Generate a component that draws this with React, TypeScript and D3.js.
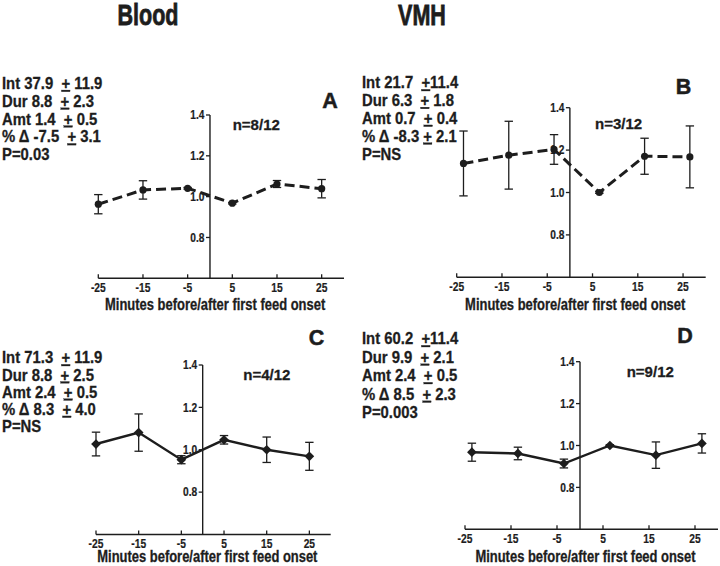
import React from "react";
import * as d3 from "d3";

// minutes relative to first feed onset
const minutesBlood = [-25, -15, -5, 5, 15, 25];
const minutesVmh = [-23.5, -13.5, -3.5, 6.5, 16.5, 26.5];
const xTicks = [-25, -15, -5, 5, 15, 25];
const yTicks = [0.8, 1.0, 1.2, 1.4];

// normalised values (mean and SEM) per panel
const meanA = [0.963, 1.033, 1.041, 0.968, 1.062, 1.039];
const semA = [0.047, 0.045, 0.004, 0.004, 0.017, 0.045];
const meanB = [1.137, 1.176, 1.203, 1.0, 1.171, 1.168];
const semB = [0.153, 0.16, 0.07, 0.004, 0.085, 0.146];
const meanC = [1.027, 1.081, 0.953, 1.047, 1.0, 0.969];
const semC = [0.056, 0.088, 0.019, 0.02, 0.06, 0.066];
const meanD = [0.968, 0.962, 0.914, 1.0, 0.954, 1.01];
const semD = [0.043, 0.03, 0.021, 0.004, 0.063, 0.046];

const statsA = ["Int 37.9  + 11.9", "Dur 8.8  + 2.3", "Amt 1.4  + 0.5", "% \u0394 -7.5  + 3.1", "P=0.03"];
const statsB = ["Int 21.7  +11.4", "Dur 6.3  + 1.8", "Amt 0.7  + 0.4", "% \u0394 -8.3 + 2.1", "P=NS"];
const statsC = ["Int 71.3  + 11.9", "Dur 8.8  + 2.5", "Amt 2.4  + 0.5", "% \u0394 8.3  + 4.0", "P=NS"];
const statsD = ["Int 60.2  +11.4", "Dur 9.9  + 2.1", "Amt 2.4  + 0.5", "% \u0394 8.5  + 2.3", "P=0.003"];

const nLabels = ["n=8/12", "n=3/12", "n=4/12", "n=9/12"];
const panelLetters = ["A", "B", "C", "D"];
const columnTitles = ["Blood", "VMH"];
const xLabel = "Minutes before/after first feed onset";

const INK = "#1d1d1d";
const FONT = "'Liberation Sans', Arial, Helvetica, sans-serif";

const panels = [
  {
    letter: panelLetters[0], n: nLabels[0], stats: statsA, minutes: minutesBlood, mean: meanA, sem: semA,
    dashed: true, x0: 98.3, x1: 344, y0: 278.3, y1: 115,
    letterPos: [330, 108], nPos: [232.7, 130], statsPos: [2, 89, 17.8], labelY: 310,
  },
  {
    letter: panelLetters[1], n: nLabels[1], stats: statsB, minutes: minutesVmh, mean: meanB, sem: semB,
    dashed: true, x0: 456.7, x1: 705.7, y0: 277.3, y1: 107.7,
    letterPos: [683.5, 94.3], nPos: [595, 129.3], statsPos: [362, 88.3, 17.8], labelY: 310,
  },
  {
    letter: panelLetters[2], n: nLabels[2], stats: statsC, minutes: minutesBlood, mean: meanC, sem: semC,
    dashed: false, x0: 96, x1: 330.7, y0: 534.5, y1: 365,
    letterPos: [316.5, 345], nPos: [243.3, 380], statsPos: [2, 363.3, 17.2], labelY: 562,
  },
  {
    letter: panelLetters[3], n: nLabels[3], stats: statsD, minutes: minutesVmh, mean: meanD, sem: semD,
    dashed: false, x0: 465, x1: 718, y0: 529.3, y1: 361.7,
    letterPos: [685, 343], nPos: [626.7, 376.7], statsPos: [362, 344.3, 18.5], labelY: 562,
  },
];

type Panel = (typeof panels)[number];

function SqText({ x, y, sx, size, anchor = "start", weight = 0.3, children }: any) {
  return (
    <text
      transform={`translate(${x},${y}) scale(${sx},1)`}
      fontSize={size}
      textAnchor={anchor}
      fontFamily={FONT}
      fontWeight="bold"
      fill={INK}
      stroke={INK}
      strokeWidth={weight}
      style={{ whiteSpace: "pre" }}
    >
      {children}
    </text>
  );
}

function StatLine({ s, x, y }: { s: string; x: number; y: number }) {
  const m = s.match(/^(.*?)\+(.*)$/);
  return (
    <SqText x={x} y={y} sx={0.9} size={16.5}>
      {m ? (
        <>
          <tspan>{m[1]}</tspan>
          <tspan textDecoration="underline">+</tspan>
          <tspan>{m[2]}</tspan>
        </>
      ) : (
        s
      )}
    </SqText>
  );
}

function ChartPanel({ p }: { p: Panel }) {
  const x = d3.scaleLinear().domain([-25, 30]).range([p.x0, p.x1]);
  const y = d3.scaleLinear().domain([0.6, 1.4]).range([p.y0, p.y1]);
  const pts = p.minutes.map((m, i) => ({ m, v: p.mean[i], e: p.sem[i] }));
  const line = d3
    .line<{ m: number; v: number }>()
    .x((d) => x(d.m))
    .y((d) => y(d.v));
  const ax = x(0);
  const cap = 4.2;

  return (
    <g>
      {/* axes */}
      <line x1={x(-25)} x2={x(30)} y1={p.y0} y2={p.y0} stroke={INK} strokeWidth={1.4} />
      <line x1={ax} x2={ax} y1={p.y0} y2={y(1.4)} stroke={INK} strokeWidth={1.4} />
      {xTicks.map((t) => (
        <g key={t}>
          <line x1={x(t)} x2={x(t)} y1={p.y0} y2={p.y0 - 4} stroke={INK} strokeWidth={1.3} />
          <SqText x={x(t)} y={p.y0 + 13.5} sx={0.82} size={12.5} anchor="middle" weight={0.2}>
            {String(t)}
          </SqText>
        </g>
      ))}
      {yTicks.map((t) => (
        <g key={t}>
          <line x1={ax - 4} x2={ax} y1={y(t)} y2={y(t)} stroke={INK} strokeWidth={1.3} />
          <SqText x={ax - 5.5} y={y(t) + 4.2} sx={0.85} size={12} anchor="end" weight={0.2}>
            {d3.format(".1f")(t)}
          </SqText>
        </g>
      ))}

      {/* error bars */}
      {pts.map((d, i) => (
        <g key={i} stroke={INK} strokeWidth={1.3}>
          <line x1={x(d.m)} x2={x(d.m)} y1={y(d.v + d.e)} y2={y(d.v - d.e)} />
          <line x1={x(d.m) - cap} x2={x(d.m) + cap} y1={y(d.v + d.e)} y2={y(d.v + d.e)} />
          <line x1={x(d.m) - cap} x2={x(d.m) + cap} y1={y(d.v - d.e)} y2={y(d.v - d.e)} />
        </g>
      ))}

      <path
        d={line(pts) || ""}
        fill="none"
        stroke={INK}
        strokeWidth={p.dashed ? 3 : 2.4}
        strokeDasharray={p.dashed ? "10,5" : undefined}
      />

      {pts.map((d, i) =>
        p.dashed ? (
          <circle key={i} cx={x(d.m)} cy={y(d.v)} r={3.6} fill={INK} />
        ) : (
          <path
            key={i}
            d={d3.symbol(d3.symbolDiamond2, 60)() || ""}
            transform={`translate(${x(d.m)},${y(d.v)})`}
            fill={INK}
          />
        )
      )}

      {/* annotations */}
      <SqText x={p.nPos[0]} y={p.nPos[1]} sx={1} size={15}>
        {p.n}
      </SqText>
      <SqText x={p.letterPos[0]} y={p.letterPos[1]} sx={1} size={21.5} anchor="middle" weight={0.5}>
        {p.letter}
      </SqText>
      {p.stats.map((s, i) => (
        <StatLine key={i} s={s} x={p.statsPos[0]} y={p.statsPos[1] + i * p.statsPos[2]} />
      ))}
      <SqText x={(x(-25) + x(30)) / 2 - 6} y={p.labelY} sx={0.81} size={16} anchor="middle">
        {xLabel}
      </SqText>
    </g>
  );
}

export default function App() {
  return (
    <svg
      width={720}
      height={566}
      viewBox="0 0 720 566"
      style={{ position: "absolute", left: 0, top: 0, background: "#fff" }}
    >
      <rect width={720} height={566} fill="#fff" />
      <SqText x={148} y={25} sx={0.73} size={29.5} anchor="middle" weight={0.8}>
        {columnTitles[0]}
      </SqText>
      <SqText x={422} y={25} sx={0.73} size={29.5} anchor="middle" weight={0.8}>
        {columnTitles[1]}
      </SqText>
      {panels.map((p) => (
        <ChartPanel key={p.letter} p={p} />
      ))}
    </svg>
  );
}
